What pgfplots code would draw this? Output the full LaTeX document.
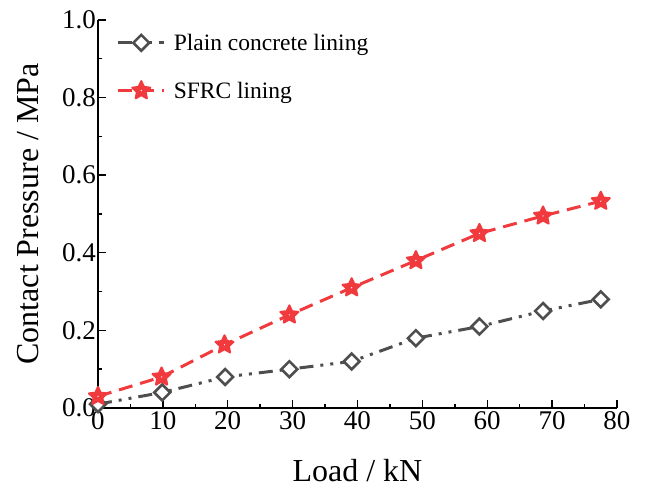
\documentclass[border=0pt]{standalone}
\usepackage{fontspec}
\setmainfont{Liberation Serif}
\usepackage{pgfplots}
\pgfplotsset{compat=1.18}
\definecolor{plaingray}{RGB}{78,78,78}
\definecolor{sfrcred}{RGB}{240,58,62}

% filled five-point star marker with a small white centre
\pgfdeclareplotmark{fstar}{%
  \pgfpathmoveto{\pgfpointpolar{90}{\pgfplotmarksize}}%
  \pgfpathlineto{\pgfpointpolar{126}{0.48\pgfplotmarksize}}%
  \pgfpathlineto{\pgfpointpolar{162}{\pgfplotmarksize}}%
  \pgfpathlineto{\pgfpointpolar{198}{0.48\pgfplotmarksize}}%
  \pgfpathlineto{\pgfpointpolar{234}{\pgfplotmarksize}}%
  \pgfpathlineto{\pgfpointpolar{270}{0.48\pgfplotmarksize}}%
  \pgfpathlineto{\pgfpointpolar{306}{\pgfplotmarksize}}%
  \pgfpathlineto{\pgfpointpolar{342}{0.48\pgfplotmarksize}}%
  \pgfpathlineto{\pgfpointpolar{18}{\pgfplotmarksize}}%
  \pgfpathlineto{\pgfpointpolar{54}{0.48\pgfplotmarksize}}%
  \pgfpathclose
  \pgfusepathqfillstroke
  \begin{pgfscope}%
    \pgfsetfillcolor{white}%
    \pgfpathcircle{\pgfpointorigin}{0.7pt}%
    \pgfusepathqfill
  \end{pgfscope}%
}

\begin{document}
\begin{tikzpicture}
\path[use as bounding box] (-98pt,-84pt) rectangle (548pt,408pt);
\begin{axis}[
    at={(0pt,0pt)}, anchor=south west,
    scale only axis, width=519pt, height=388pt,
    xmin=0, xmax=80, ymin=0, ymax=1,
    axis lines*=left,
    xtick={0,10,20,30,40,50,60,70,80},
    ytick={0,0.2,0.4,0.6,0.8,1.0},
    minor x tick num=1, minor y tick num=1,
    tick align=inside,
    major tick length=8pt, minor tick length=4pt,
    axis line style={line width=1.6pt},
    tick style={line width=1.4pt, black},
    /pgf/number format/assume math mode=true,
    yticklabel style={/pgf/number format/fixed, /pgf/number format/fixed zerofill,
        /pgf/number format/precision=1, inner sep=2pt},
    xticklabel style={inner sep=3pt},
    ticklabel style={font=\fontsize{27}{27}\selectfont},
    xlabel={Load / kN},
    ylabel={Contact Pressure / MPa},
    label style={font=\fontsize{32}{32}\selectfont},
    xlabel style={yshift=-23pt},
    ylabel style={yshift=18pt},
    legend style={at={(0.03,0.975)}, anchor=north west, draw=none, fill=none,
        font=\fontsize{23.5}{23.5}\selectfont, row sep=26pt,
        nodes={inner xsep=8pt}},
    legend cell align=left,
    legend image code/.code={%
        \draw[mark repeat=2, mark phase=2]
        plot coordinates {(0pt,0pt) (23pt,0pt) (46pt,0pt)};},
    clip=false,
]
\addplot[plaingray, line width=3pt, dash pattern=on 14pt off 7pt on 3pt off 7pt on 3pt off 7pt,
    mark=square*, mark size=5.6pt, mark options={solid, rotate=45, line width=2.6pt, fill=white}]
coordinates {
    (0,0.01)(9.9,0.04)(19.6,0.08)(29.5,0.10)(39.1,0.12)
    (49,0.18)(58.8,0.21)(68.6,0.25)(77.5,0.28)
};
\addplot[sfrcred, line width=3pt, dash pattern=on 14pt off 8pt,
    mark=fstar, mark size=9.5pt, mark options={solid, line width=2pt, line join=round, fill=sfrcred}]
coordinates {
    (0,0.03)(9.8,0.08)(19.5,0.163)(29.5,0.24)(39.1,0.31)
    (49,0.38)(58.8,0.45)(68.6,0.495)(77.5,0.533)
};
\legend{Plain concrete lining, SFRC lining}
\end{axis}
\end{tikzpicture}
\end{document}
